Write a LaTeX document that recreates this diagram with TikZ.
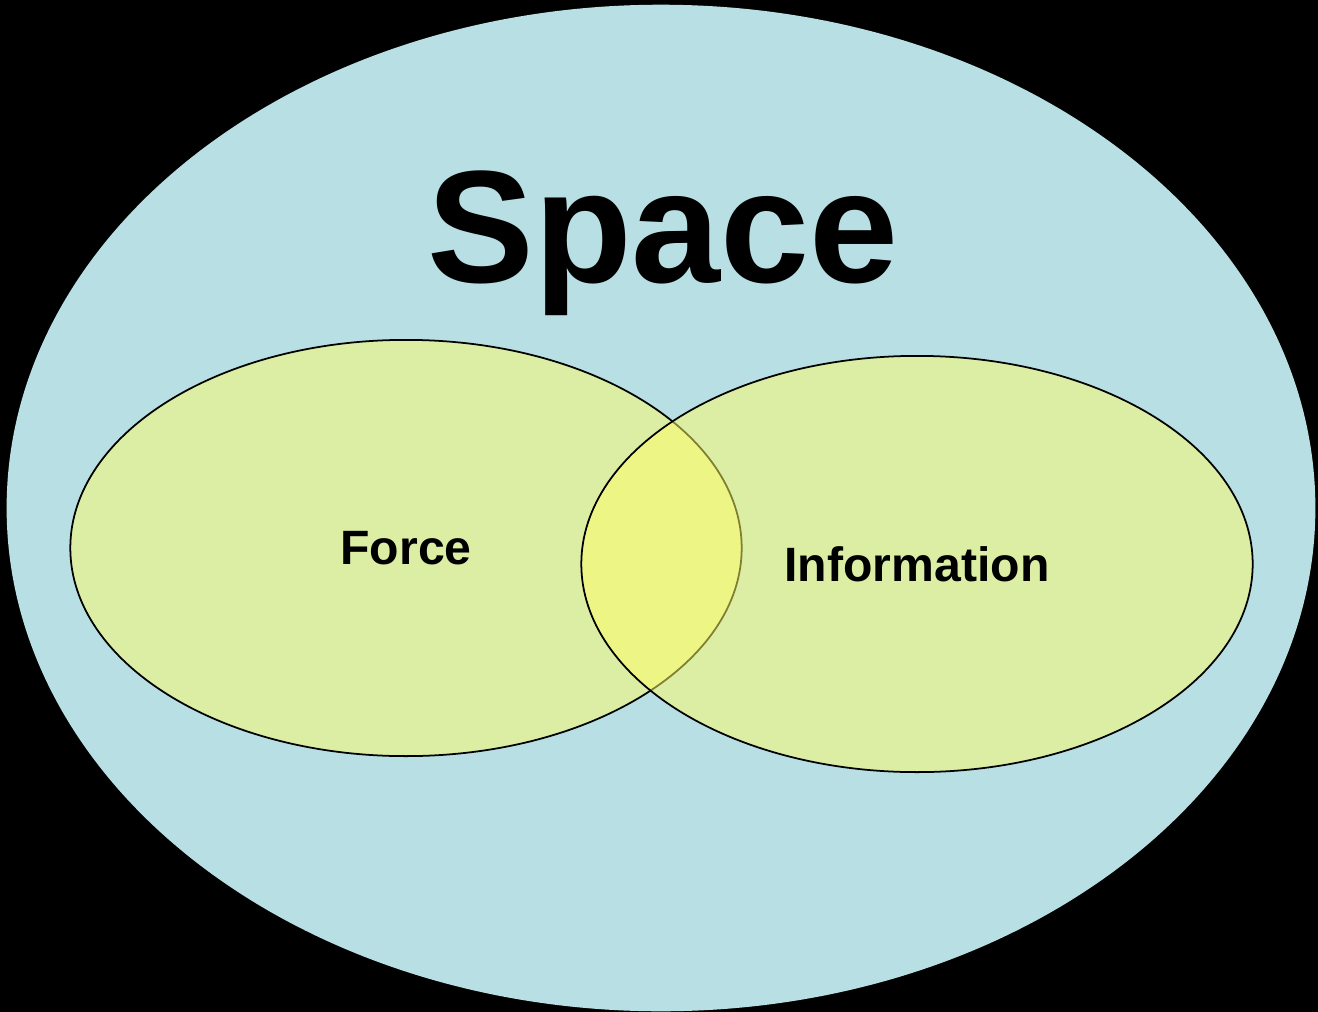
\documentclass[tikz,border=0pt]{standalone}
\usepackage{fontspec}
\setmainfont{Liberation Sans}
\usetikzlibrary{positioning,shapes.geometric}

\definecolor{spaceblue}{RGB}{184,224,228}
\definecolor{fieldyellow}{RGB}{255,253,102}

\begin{document}
\begin{tikzpicture}[
    x=0.01cm,
    y=-0.01cm,
    outer/.style={
        ellipse,
        fill=spaceblue,
        inner sep=0pt,
        minimum width=13.08cm,
        minimum height=10.06cm
    },
    field/.style={
        ellipse,
        draw=black,
        line width=0.5pt,
        fill=fieldyellow,
        fill opacity=0.5,
        text opacity=1,
        inner sep=0pt,
        minimum width=6.71cm,
        minimum height=4.16cm,
        font=\fontsize{13.7}{16}\selectfont\bfseries
    },
    title/.style={
        inner sep=0pt,
        anchor=base,
        font=\fontsize{45.5}{50}\selectfont\bfseries
    }
]

% black page
\fill[black] (0,0) rectangle (1318,1012);
\useasboundingbox (0,0) rectangle (1318,1012);

\node[outer] (space) at (661,508) {};
\node[title] (spacelabel) at (663,282) {Space};

% the two overlapping fields
\node[field] (force) at (406,548) {Force};
\node[field] (info) at (917,564) {Information};

\end{tikzpicture}
\end{document}
